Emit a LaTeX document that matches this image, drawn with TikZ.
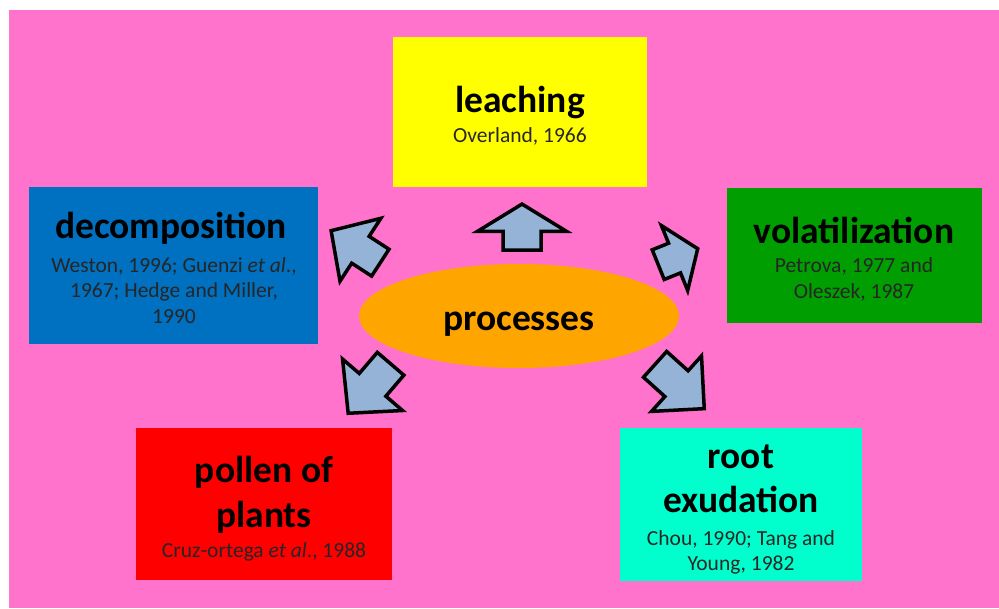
\documentclass[tikz,border=0pt]{standalone}
\usepackage{fontspec}
\setmainfont{Carlito}
\usetikzlibrary{shapes.arrows,shapes.geometric}
\definecolor{bgpink}{RGB}{255,115,205}
\definecolor{boxyellow}{RGB}{255,255,0}
\definecolor{boxblue}{RGB}{0,112,192}
\definecolor{boxgreen}{RGB}{0,158,0}
\definecolor{boxred}{RGB}{255,0,0}
\definecolor{boxcyan}{RGB}{0,255,204}
\definecolor{procorange}{RGB}{255,165,0}
\definecolor{arrowblue}{RGB}{149,179,215}
\begin{document}
\begin{tikzpicture}[x=1pt,y=1pt,
  box/.style={rectangle, inner sep=0pt, draw=none},
  ttl/.style={font=\fontsize{37.5}{44}\selectfont\bfseries, anchor=base, inner sep=0pt},
  cit/.style={font=\fontsize{21.5}{26}\selectfont, anchor=base, inner sep=0pt, text=black!85},
  barrow/.style={single arrow, draw=black, fill=arrowblue, line width=3.5pt,
     inner xsep=0pt, minimum width=1pt, anchor=tip, single arrow head indent=0pt}]
\useasboundingbox (0,0) rectangle (999,-608);
\fill[white] (0,0) rectangle (999,-608);
\fill[bgpink] (9,-10) rectangle (999,-608);

% boxes
\node[box, fill=boxyellow, minimum width=254, minimum height=150] (leach) at (520,-112) {};
\node[box, fill=boxblue, minimum width=289, minimum height=157] (decomp) at (173.5,-265.5) {};
\node[box, fill=boxgreen, minimum width=255, minimum height=135] (volat) at (854.5,-255.5) {};
\node[box, fill=boxred, minimum width=256, minimum height=152] (pollen) at (264,-504) {};
\node[box, fill=boxcyan, minimum width=242, minimum height=153] (root) at (741,-504.5) {};
\node[ellipse, fill=procorange, inner sep=0pt, minimum width=320, minimum height=104] (proc) at (519,-316) {};

% texts
\node[ttl] (tleach) at (520,-112) {leaching};
\node[cit] (cleach) at (520,-142) {Overland, 1966};

\node[ttl] (tdecomp) at (171,-238) {decomposition};
\node[cit] (cdecompa) at (174,-272) {Weston, 1996; Guenzi \textit{et al}.,};
\node[cit] (cdecompb) at (174,-297.5) {1967; Hedge and Miller,};
\node[cit] (cdecompc) at (174,-323) {1990};

\node[ttl] (tvolat) at (854,-243) {volatilization};
\node[cit] (cvolata) at (854,-272) {Petrova, 1977 and};
\node[cit] (cvolatb) at (854,-298) {Oleszek, 1987};

\node[ttl] (tpollena) at (264,-482) {pollen of};
\node[ttl] (tpollenb) at (264,-527) {plants};
\node[cit] (cpollen) at (264,-557) {Cruz-ortega \textit{et al}., 1988};

\node[ttl] (troota) at (741,-468) {root};
\node[ttl] (trootb) at (741,-512) {exudation};
\node[cit] (croota) at (741,-545) {Chou, 1990; Tang and};
\node[cit] (crootb) at (741,-570) {Young, 1982};

\node[ttl] (tproc) at (519,-330) {processes};

% block arrows
\node[barrow, inner ysep=17.25pt, single arrow head extend=25.5pt, single arrow tip angle=117,
      minimum height=46pt, rotate=90] (aup) at (522,-202) {};
\node[barrow, inner ysep=14.25pt, single arrow head extend=21.5pt, single arrow tip angle=94,
      minimum height=58.7pt, rotate=147] (aul) at (329.1,-229.4) {};
\node[barrow, inner ysep=14.25pt, single arrow head extend=19pt, single arrow tip angle=109,
      minimum height=42.6pt, rotate=22] (aur) at (699.7,-247.9) {};
\node[barrow, inner ysep=15.75pt, single arrow head extend=22pt, single arrow tip angle=93,
      minimum height=65.2pt, rotate=229.4] (all) at (346.6,-415.1) {};
\node[barrow, inner ysep=15.6pt, single arrow head extend=20pt, single arrow tip angle=90,
      minimum height=66.2pt, rotate=-42] (alr) at (706.1,-410.3) {};
\end{tikzpicture}
\end{document}
